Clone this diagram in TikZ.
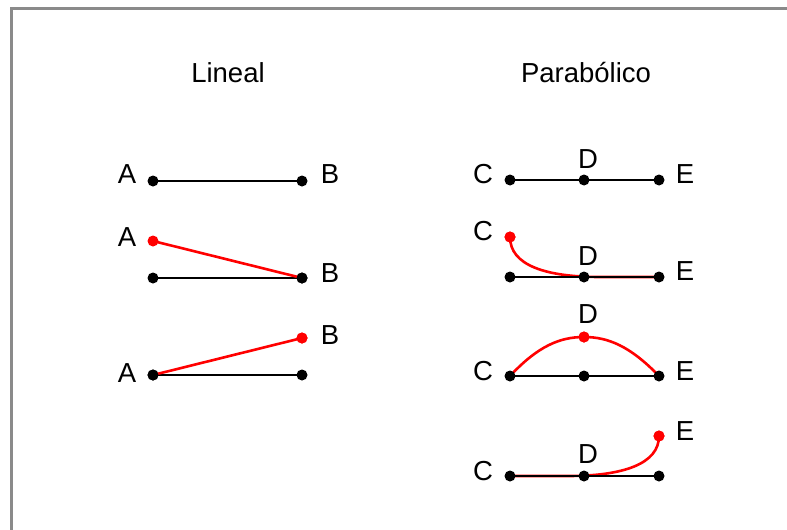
\documentclass[tikz,border=0pt]{standalone}
\usepackage{fontspec}
\setmainfont{Liberation Sans}
\definecolor{framegray}{RGB}{138,138,138}
\definecolor{curvered}{RGB}{255,0,0}
\begin{document}
\begin{tikzpicture}[x=1pt,y=-1pt,
  dot/.style={circle,fill=black,inner sep=0pt,minimum size=11pt},
  rdot/.style={dot,fill=curvered},
  lbl/.style={anchor=base,inner sep=0pt,font=\fontsize{27.5}{32}\selectfont},
  ttl/.style={anchor=base,inner sep=0pt,font=\fontsize{27.5}{32}\selectfont},
  seg/.style={line width=2.6pt,black},
  rseg/.style={line width=2.6pt,curvered}]
\clip (0,0) rectangle (787,530);
\fill[white] (0,0) rectangle (787,530);
\draw[framegray,line width=3pt] (800,8.5) -- (11.5,8.5) -- (11.5,545);

% titles
\node[ttl] (tlin) at (228,82) {Lineal};
\node[ttl] (tpar) at (586,82) {Parabólico};

% ---------- Lineal ----------
% row 1
\node[dot] (a1) at (153,181) {};
\node[dot] (b1) at (302,181) {};
\draw[seg] (a1.center) -- (b1.center);
\node[lbl] (la1) at (127,183) {A};
\node[lbl] (lb1) at (330,183) {B};
% row 2
\node[dot] (a2) at (153,278) {};
\node[dot] (b2) at (302,278) {};
\node[rdot] (ra2) at (153,241) {};
\draw[seg] (a2.center) -- (b2.center);
\draw[rseg] (ra2.center) -- (b2.center);
\node[dot] at (b2.center) {};
\node[lbl] (la2) at (127,246) {A};
\node[lbl] (lb2) at (330,282) {B};
% row 3
\node[dot] (a3) at (153,375) {};
\node[dot] (b3) at (302,375) {};
\node[rdot] (rb3) at (302,338) {};
\draw[seg] (a3.center) -- (b3.center);
\draw[rseg] (a3.center) -- (rb3.center);
\node[dot] at (a3.center) {};
\node[rdot] at (rb3.center) {};
\node[lbl] (la3) at (127,382) {A};
\node[lbl] (lb3) at (330,344) {B};

% ---------- Parabolico ----------
% row 1
\node[dot] (c1) at (510,180) {};
\node[dot] (d1) at (584,180) {};
\node[dot] (e1) at (659,180) {};
\draw[seg] (c1.center) -- (e1.center);
\node[lbl] (lc1) at (483,183) {C};
\node[lbl] (ld1) at (588,168) {D};
\node[lbl] (le1) at (685,183) {E};
% row 2
\coordinate (c2) at (510,277);
\node[rdot] (rc2) at (510,237) {};
\coordinate (d2) at (584,277);
\coordinate (e2) at (659,277);
\draw[rseg] (rc2.center) .. controls (510,265) and (545,277) .. (600,277) -- (e2);
\draw[seg] (c2) -- (e2);
\node[dot] (dc2) at (c2) {};
\node[dot] (dd2) at (d2) {};
\node[dot] (de2) at (e2) {};
\node[rdot] at (rc2.center) {};
\node[lbl] (lc2) at (483,240) {C};
\node[lbl] (ld2) at (588,265) {D};
\node[lbl] (le2) at (685,280) {E};
% row 3
\coordinate (c3) at (510,376);
\coordinate (d3) at (584,376);
\coordinate (e3) at (659,376);
\node[rdot] (rd3) at (584,337) {};
\draw[seg] (c3) -- (e3);
\draw[rseg] (c3) .. controls (538,346) and (560,337) .. (rd3.center)
  .. controls (608,337) and (630,346) .. (e3);
\node[dot] (dc3) at (c3) {};
\node[dot] (dd3) at (d3) {};
\node[dot] (de3) at (e3) {};
\node[rdot] at (rd3.center) {};
\node[lbl] (lc3) at (483,380) {C};
\node[lbl] (ld3) at (588,323) {D};
\node[lbl] (le3) at (685,380) {E};
% row 4
\coordinate (c4) at (510,476);
\coordinate (d4) at (584,476);
\coordinate (e4) at (659,476);
\node[rdot] (re4) at (659,436) {};
\draw[rseg] (c4) -- (568,476) .. controls (623,476) and (659,464) .. (re4.center);
\draw[seg] (c4) -- (e4);
\node[dot] (dc4) at (c4) {};
\node[dot] (dd4) at (d4) {};
\node[dot] (de4) at (e4) {};
\node[rdot] at (re4.center) {};
\node[lbl] (lc4) at (483,480) {C};
\node[lbl] (ld4) at (588,463) {D};
\node[lbl] (le4) at (685,440) {E};
\end{tikzpicture}
\end{document}
